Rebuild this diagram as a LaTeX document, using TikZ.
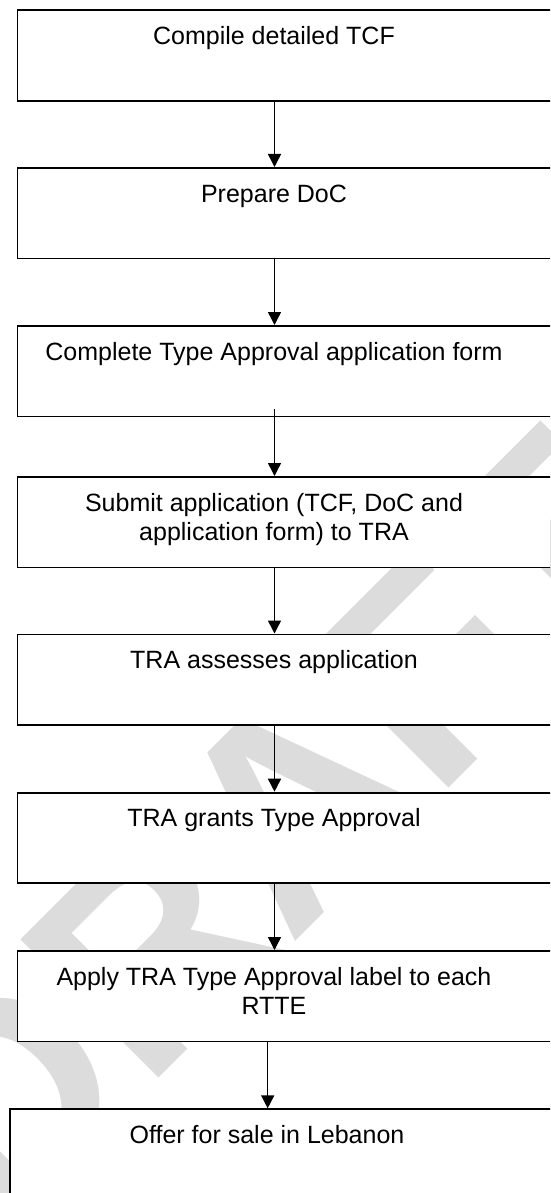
\documentclass[tikz,border=0pt]{standalone}
\usepackage{fontspec}
\setmainfont{Liberation Sans}
\usetikzlibrary{arrows.meta}
\definecolor{wm}{RGB}{220,220,220}
\begin{document}
\begin{tikzpicture}[x=1pt,y=-1pt,
  stepbox/.style={draw=black, line width=1.8pt, fill=white, rectangle, inner sep=0pt,
    anchor=north west, minimum width=560pt, minimum height=90.5pt},
  steptext/.style={anchor=base, font=\fontsize{25}{29}\selectfont, align=center, inner sep=0pt},
  arr/.style={line width=1.5pt, -{Triangle[length=13pt,width=13pt]}}]
\useasboundingbox (0,0) rectangle (550,1193);
\clip (0,0) rectangle (550,1193);
\fill[white] (0,0) rectangle (550,1193);
% watermark
\node[font=\bfseries\fontsize{284}{284}\selectfont, text=wm, rotate=45, inner sep=0pt, anchor=north east] (wmark) at (543,418) {DRAFT};
% columns for connectors
\coordinate (colA) at (274.5,0);
\coordinate (colB) at (267.7,0);
% boxes
\node[stepbox] (b1) at (16.5,9.5) {};
\node[stepbox] (b2) at (16.5,167) {};
\node[stepbox] (b3) at (16.5,325) {};
\node[stepbox] (b4) at (16.5,476) {};
\node[stepbox] (b5) at (16.5,633.5) {};
\node[stepbox] (b6) at (16.5,791.7) {};
\node[stepbox] (b7) at (16.5,950) {};
\node[stepbox, minimum height=200pt] (b8) at (9.3,1108.3) {};
% texts
\node[steptext] (t1) at (274,44.5) {Compile detailed TCF};
\node[steptext] (t2) at (274,202) {Prepare DoC};
\node[steptext] (t3) at (274,360) {Complete Type Approval application form};
\node[steptext] (t4) at (274,540.5) {Submit application (TCF, DoC and\\application form) to TRA};
\node[steptext] (t5) at (274,668.5) {TRA assesses application};
\node[steptext] (t6) at (274,826.7) {TRA grants Type Approval};
\node[steptext] (t7) at (274,1014) {Apply TRA Type Approval label to each\\RTTE};
\node[steptext] (t8) at (267,1143.3) {Offer for sale in Lebanon};
% connectors
\coordinate (s3) at ([yshift=8pt]b3.south);
\draw[arr] (b1.south -| colA) -- (b2.north -| colA);
\draw[arr] (b2.south -| colA) -- (b3.north -| colA);
\draw[arr] (s3 -| colA) -- (b4.north -| colA);
\draw[arr] (b4.south -| colA) -- (b5.north -| colA);
\draw[arr] (b5.south -| colA) -- (b6.north -| colA);
\draw[arr] (b6.south -| colA) -- (b7.north -| colA);
\draw[arr] (b7.south -| colB) -- (b8.north -| colB);
\end{tikzpicture}
\end{document}
